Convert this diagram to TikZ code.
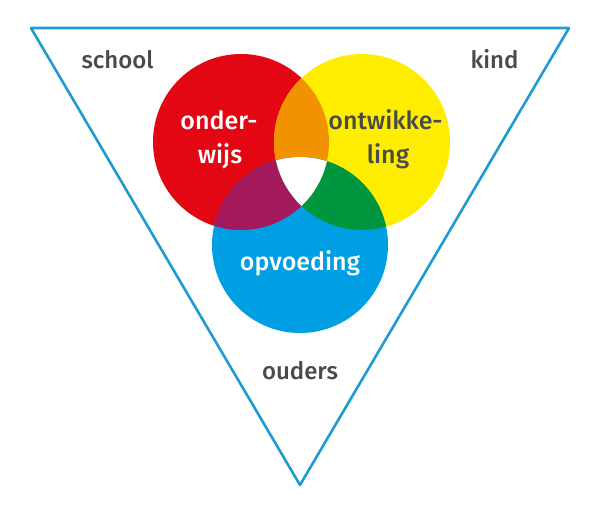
\documentclass[tikz,border=0pt]{standalone}
\usepackage{fontspec}
\setmainfont{Fira Sans Medium}
\definecolor{cred}{HTML}{E30613}
\definecolor{cyel}{HTML}{FFED00}
\definecolor{cblue}{HTML}{009FE3}
\definecolor{corange}{HTML}{F39200}
\definecolor{cpurple}{HTML}{A3195B}
\definecolor{cgreen}{HTML}{009640}
\definecolor{cline}{HTML}{1E9CCF}
\definecolor{ctext}{HTML}{4A4A4A}
\tikzset{
  lbl/.style={font=\fontsize{24}{28}\selectfont, text=ctext, inner sep=0pt, anchor=base},
  inlbl/.style={font=\fontsize{25}{30}\selectfont, inner sep=0pt, anchor=base},
  disc/.style={circle, minimum size=176pt, inner sep=0pt, draw=none}
}
\begin{document}
\begin{tikzpicture}[x=1pt,y=-1pt]
\useasboundingbox (0,0) rectangle (600,515);
\coordinate (tl) at (31,28);
\coordinate (tr) at (569,28);
\coordinate (bt) at (300,485);
\draw[cline, line width=2.6pt, line join=round] (tl) -- (tr) -- (bt) -- cycle;
\def\circR{(241,142) circle (88)}
\def\circY{(362,142) circle (88)}
\def\circB{(300,245) circle (88)}
\node[disc, fill=cred] (red) at (241,142) {};
\node[disc, fill=cyel] (yel) at (362,142) {};
\node[disc, fill=cblue] (blue) at (300,245) {};
\begin{scope}\clip \circR; \fill[corange] \circY; \end{scope}
\begin{scope}\clip \circR; \fill[cpurple] \circB; \end{scope}
\begin{scope}\clip \circY; \fill[cgreen] \circB; \end{scope}
\begin{scope}\clip \circR; \clip \circY; \fill[white] \circB; \end{scope}
\node[lbl] (school) at (117.5,68.3) {school};
\node[lbl] (kind) at (494.5,68.3) {kind};
\node[lbl] (ouders) at (300,379) {ouders};
\node[inlbl, text=white] (ow1) at (219,129.3) {onder-};
\node[inlbl, text=white] (ow2) at (220,163.3) {wijs};
\node[inlbl, text=ctext] (ont1) at (385.5,129.3) {ontwikke-};
\node[inlbl, text=ctext] (ont2) at (388,163.3) {ling};
\node[inlbl, text=white] (opv) at (300,270) {opvoeding};
\end{tikzpicture}
\end{document}
